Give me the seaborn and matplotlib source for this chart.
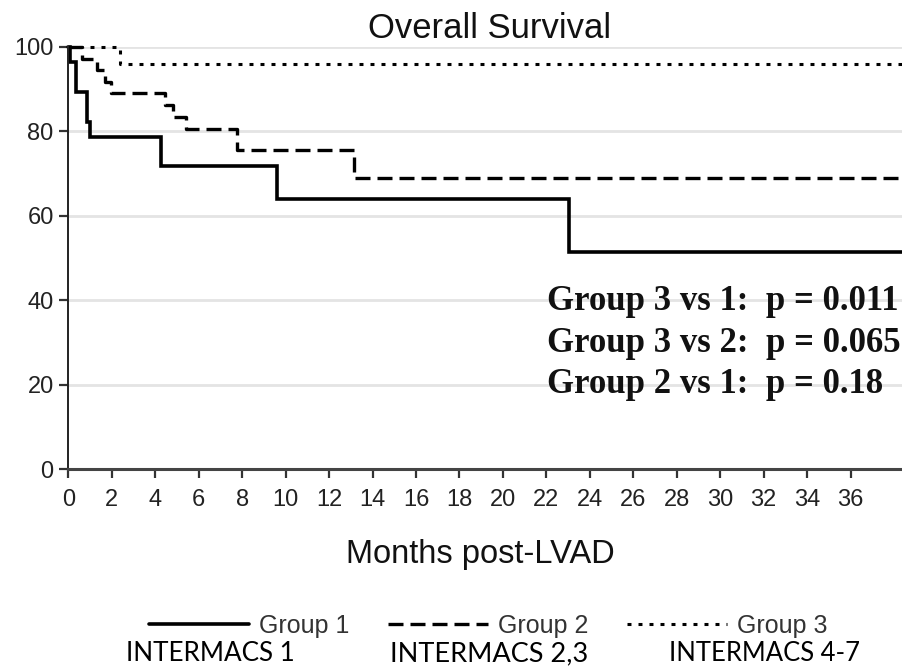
import numpy as np
import pandas as pd
import matplotlib
matplotlib.use("Agg")
import matplotlib.pyplot as plt
import seaborn as sns

# ---------------- data ----------------
groups = ["Group 1", "Group 2", "Group 3"]
intermacs_labels = ["INTERMACS 1", "INTERMACS 2,3", "INTERMACS 4-7"]

g1_months = [0, 0.08, 0.35, 0.87, 1.0, 4.25, 9.62, 23.06, 38.5]
g1_surv = [100, 96.4, 89.3, 82.1, 78.6, 71.8, 63.9, 51.4, 51.4]

g2_months = [0, 0.62, 1.3, 1.7, 1.95, 4.46, 4.8, 5.4, 7.75, 13.15, 38.5]
g2_surv = [100, 97.2, 94.4, 91.7, 89.0, 86.1, 83.3, 80.6, 75.6, 68.9, 68.9]

g3_months = [0, 2.38, 38.5]
g3_surv = [100, 95.9, 95.9]

pvalue_lines = ["Group 3 vs 1:  p = 0.011",
                "Group 3 vs 2:  p = 0.065",
                "Group 2 vs 1:  p = 0.18"]

x_ticks = list(range(0, 37, 2))
y_ticks = [0, 20, 40, 60, 80, 100]

title = "Overall Survival"
xlabel = "Months post-LVAD"

# ---------------- build long table ----------------
frames = []
for g, m, s in zip(groups, [g1_months, g2_months, g3_months],
                   [g1_surv, g2_surv, g3_surv]):
    frames.append(pd.DataFrame({"month": m, "survival": s, "group": g}))
df = pd.concat(frames, ignore_index=True)

# ---------------- style ----------------
sns.set_style("white")
plt.rcParams["font.family"] = ["Liberation Sans", "DejaVu Sans"]

W, H = 903, 668
fig = plt.figure(figsize=(W / 100, H / 100), dpi=100)
x0_px, y0_px, ytop_px = 68.3, 469.3, 46.7
ax = fig.add_axes([x0_px / W, 1 - y0_px / H, 1 - x0_px / W, (y0_px - ytop_px) / H])

palette = {g: "black" for g in groups}
dashes = {"Group 1": "", "Group 2": (4.5, 2.1), "Group 3": (1.3, 2.3)}
sns.lineplot(data=df, x="month", y="survival", hue="group", style="group",
             palette=palette, dashes=dashes, drawstyle="steps-post",
             estimator=None, sort=False, legend=False, ax=ax, linewidth=2.4)

lws = {"Group 1": 2.6, "Group 2": 2.4, "Group 3": 2.2}
for line, g in zip(ax.get_lines(), groups):
    line.set_linewidth(lws[g])
    line.set_dash_capstyle("butt")
    line.set_solid_joinstyle("miter")
    line.set_clip_on(False)

ax.set_xlim(0, (W - x0_px) / 21.73)
ax.set_ylim(0, 100)
ax.set_xticks(x_ticks)
ax.set_yticks(y_ticks)
ax.set_xlabel("")
ax.set_ylabel("")

ax.grid(axis="y", color="#e4e4e4", linewidth=2)
ax.grid(axis="x", visible=False)
ax.set_axisbelow(True)

for sp in ["top", "right"]:
    ax.spines[sp].set_visible(False)
ax.spines["left"].set_color("#222222")
ax.spines["left"].set_linewidth(1.4)
ax.spines["bottom"].set_color("#444444")
ax.spines["bottom"].set_linewidth(2.2)

ax.tick_params(axis="both", which="major", direction="out", length=6.5,
               width=1.6, color="#333333", labelsize=17, labelcolor="#222222",
               bottom=True, left=True)
ax.tick_params(axis="x", pad=8)
ax.tick_params(axis="y", pad=4)

# ---------------- texts ----------------
renderer = fig.canvas.get_renderer()


def fit_width(t, target_px):
    w = t.get_window_extent(renderer=renderer).width
    t.set_fontsize(t.get_fontsize() * target_px / w)


t_title = fig.text(489.5 / W, 1 - 37.5 / H, title, ha="center", va="baseline",
                   fontsize=24, color="#111111")
fit_width(t_title, 243)

t_xlab = fig.text(480 / W, 1 - 563 / H, xlabel, ha="center", va="baseline",
                  fontsize=23.5, color="#111111")

p_base = [310, 351.7, 393.3]
p_texts = []
for s, yb in zip(pvalue_lines, p_base):
    p_texts.append(fig.text(546.7 / W, 1 - yb / H, s, ha="left", va="baseline",
                            fontsize=24, fontweight="bold", color="#111111",
                            family=["Liberation Serif", "DejaVu Serif"]))
fit_width(p_texts[0], 352)
for t in p_texts[1:]:
    t.set_fontsize(p_texts[0].get_fontsize())

# legend
fs_leg = 18
handles = ax.get_lines()[:3]
leg = fig.legend(handles, groups, loc="center left",
                 bbox_to_anchor=(148.7 / W, 1 - 626 / H), ncol=3, frameon=False,
                 fontsize=fs_leg, handlelength=72 / fs_leg,
                 handletextpad=7.4 / fs_leg, columnspacing=27.6 / fs_leg,
                 borderpad=0, borderaxespad=0)
for txt in leg.get_texts():
    txt.set_color("#333333")

# INTERMACS labels
im_pos = [(126, 294), (390, 587), (669, 859)]
for lab, (xl, xr) in zip(intermacs_labels, im_pos):
    t = fig.text(xl / W, 1 - 661 / H, lab, ha="left", va="baseline", fontsize=22,
                 color="black", family=["Lato", "DejaVu Sans"])
    fit_width(t, xr - xl)

fig.savefig("out.png", dpi=100)
